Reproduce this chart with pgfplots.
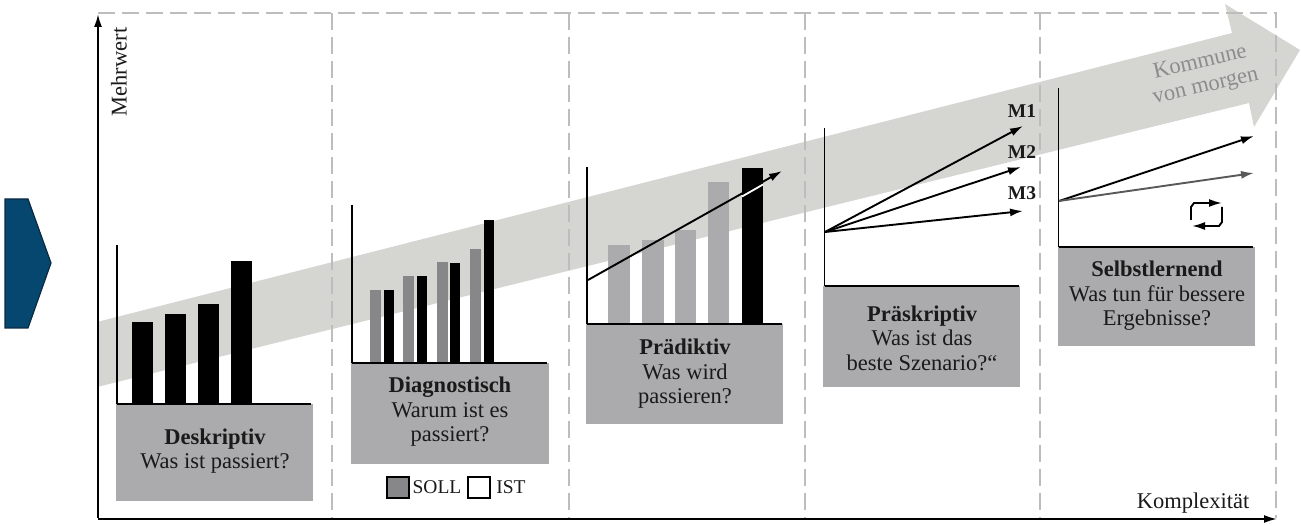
\documentclass[border=0pt]{standalone}
\usepackage{fontspec}
\setmainfont{Liberation Serif}
\usepackage{pgfplots}
\pgfplotsset{compat=1.18}
\usetikzlibrary{arrows.meta}
\definecolor{band}{HTML}{D5D6D2}
\definecolor{boxgray}{HTML}{ABABAD}
\definecolor{soll}{HTML}{878789}
\definecolor{dashgray}{HTML}{BDBDBD}
\definecolor{navy}{HTML}{05476F}
\definecolor{navyedge}{HTML}{0A2A42}
\definecolor{txt}{HTML}{1A1A1A}
% rectangle from x0 to x1, ytop to ybot, in picture pixels
\newcommand{\vbar}[5]{\addplot[fill=#5,draw=none,forget plot] coordinates {(#1,#4) (#1,#3) (#2,#3) (#2,#4)} --cycle;}
\newcommand{\seg}[5][]{\addplot[black,line width=1.9pt,forget plot,#1] coordinates {(#2,#3) (#4,#5)};}
\tikzset{
  arr/.style={-{Latex[length=13pt,width=8pt]}},
  lab/.style={text=txt,font=\fontsize{22.5}{24.5}\selectfont,align=center,inner sep=0pt},
  small/.style={text=txt,font=\fontsize{19.5}{24}\selectfont,inner sep=0pt},
}
\begin{document}
\begin{tikzpicture}
\begin{axis}[
  name=ax,
  width=1301pt,height=526pt,scale only axis,
  xmin=0,xmax=1301,ymin=0,ymax=526,y dir=reverse,
  hide axis,clip=true,
]
% big grey arrow
\addplot[fill=band,draw=none,forget plot] coordinates {(97,322) (1232,33) (1225,4) (1300,50) (1254,127) (1249,103) (97,387)} --cycle;
% dashed frame
\addplot[dashgray,line width=2pt,dash pattern=on 17pt off 7pt,forget plot] coordinates {(98,13) (1276,13) (1276,518)};
\addplot[dashgray,line width=1.7pt,dash pattern=on 17pt off 7pt,forget plot] coordinates {(332,13) (332,518)};
\addplot[dashgray,line width=1.7pt,dash pattern=on 17pt off 7pt,forget plot] coordinates {(569,13) (569,518)};
\addplot[dashgray,line width=1.7pt,dash pattern=on 17pt off 7pt,forget plot] coordinates {(805,13) (805,518)};
\addplot[dashgray,line width=1.7pt,dash pattern=on 17pt off 7pt,forget plot] coordinates {(1040,13) (1040,518)};
% main axes
\seg[arr]{98}{518}{98}{14}
\seg[arr]{98}{519}{1277}{519}
% chevron
\addplot[fill=navy,draw=navyedge,line width=1.2pt,forget plot] coordinates {(5,199) (28,199) (51,263) (28,328) (5,328)} --cycle;
% grey boxes
\vbar{116}{313}{404}{501}{boxgray}
\vbar{351}{549}{363}{464}{boxgray}
\vbar{586}{783}{324}{424}{boxgray}
\vbar{823}{1020}{286}{387}{boxgray}
\vbar{1058}{1255}{247}{346}{boxgray}
% panel 1
\vbar{132}{153}{322}{404}{black}
\vbar{165}{186}{314}{404}{black}
\vbar{198}{219}{304}{404}{black}
\vbar{231}{252}{261}{404}{black}
\seg{117}{245}{117}{404}
\seg{117}{404}{311}{404}
% panel 2
\vbar{370}{381}{290}{363}{soll}
\vbar{384}{394}{290}{363}{black}
\vbar{403}{414}{276}{363}{soll}
\vbar{417}{427}{276}{363}{black}
\vbar{437}{448}{262}{363}{soll}
\vbar{450}{460}{263}{363}{black}
\vbar{470}{481}{249}{363}{soll}
\vbar{484}{494}{220}{363}{black}
\seg{352}{205}{352}{363}
\seg{352}{363}{547}{363}
% panel 3
\vbar{608}{630}{245}{324}{boxgray}
\vbar{642}{664}{240}{324}{boxgray}
\vbar{675}{696}{230}{324}{boxgray}
\vbar{708}{729}{182}{324}{boxgray}
\vbar{742}{763}{168}{324}{black}
\seg{587}{167}{587}{324}
\seg{587}{324}{782}{324}
\addplot[white,line width=1.8pt,forget plot] coordinates {(742,196.5) (763,184.5)};
\seg[arr]{588}{280}{782}{171}
% panel 4
\seg{824.5}{128}{824.5}{286}
\seg{825}{286}{1019}{286}
\seg[arr]{825}{232}{1023}{126}
\seg[arr]{825}{232}{1021}{167}
\seg[arr]{825}{232}{1023}{211}
% panel 5
\seg{1058.5}{88}{1058.5}{247}
\seg{1059}{247}{1253}{247}
\seg[arr]{1059}{201}{1254}{136}
\seg[arr,draw=black!65,fill=black!65]{1059}{201}{1254}{173}
% cycle icon
\addplot[black,line width=1.9pt,arr,forget plot] coordinates {(1191,220) (1191,207) (1194,203) (1222,203)};
\addplot[black,line width=1.9pt,arr,forget plot] coordinates {(1222,207) (1222,222) (1219,226) (1192,226)};
% legend swatches
\addplot[fill=soll,draw=black,line width=1.2pt,forget plot] coordinates {(387,477) (409,477) (409,498) (387,498)} --cycle;
\addplot[fill=white,draw=black,line width=1.2pt,forget plot] coordinates {(468,477) (490,477) (490,498) (468,498)} --cycle;
% texts
\node[lab] at (axis cs:215,451) {\textbf{Deskriptiv}\\Was ist passiert?};
\node[lab] at (axis cs:450,412) {\textbf{Diagnostisch}\\Warum ist es\\passiert?};
\node[lab] at (axis cs:685,374) {\textbf{Prädiktiv}\\Was wird\\passieren?};
\node[lab] at (axis cs:922,338) {\textbf{Präskriptiv}\\Was ist das\\beste Szenario?“};
\node[lab] at (axis cs:1157,296) {\textbf{Selbstlernend}\\Was tun für bessere\\Ergebnisse?};
\node[small] at (axis cs:437,487) {SOLL};
\node[small] at (axis cs:511,487) {IST};
\node[small] at (axis cs:1022,111) {\textbf{M1}};
\node[small] at (axis cs:1022,152) {\textbf{M2}};
\node[small] at (axis cs:1022,193) {\textbf{M3}};
\node[lab,rotate=90] at (axis cs:119,72) {Mehrwert};
\node[lab] at (axis cs:1193,503) {Komplexität};
\node[lab,rotate=13,text=black!45] at (axis cs:1203,75) {Kommune\\von morgen};
\end{axis}
\path[use as bounding box] (ax.south west) rectangle (ax.north east);
\end{tikzpicture}
\end{document}
